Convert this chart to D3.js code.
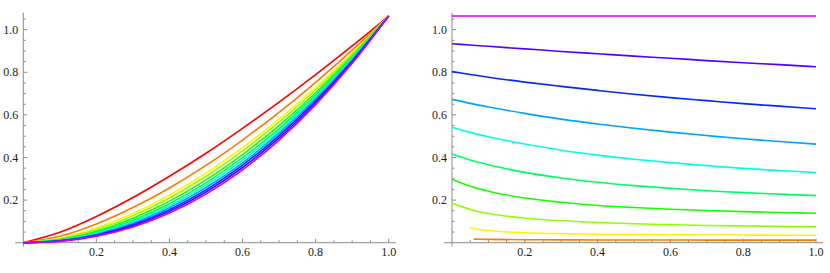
<!DOCTYPE html>
<html>
<head>
<meta charset="utf-8">
<script src="https://d3js.org/d3.v7.min.js"></script>
<style>
body { margin: 0; background: #fff; }
svg { display: block; }
text { font-family: 'Liberation Serif', 'Times New Roman', serif; font-size: 12px; }
</style>
</head>
<body>
<svg class="theSvg" width="830" height="273"></svg>
<script>
// x positions the curves were read at
var leftX = [0, 0.1, 0.2, 0.3, 0.4, 0.5, 0.6, 0.7, 0.8, 0.9, 1.0];
var rightX = [0, 0.05, 0.1, 0.2, 0.3, 0.4, 0.5, 0.6, 0.7, 0.8, 0.9, 1.0];
var rightYellowX = [0.049, 0.07, 0.1, 0.2, 0.3, 0.4, 0.5, 0.6, 0.7, 0.8, 0.9, 1.0];
var rightOrangeX = [0.06, 0.1, 0.2, 0.3, 0.4, 0.5, 0.6, 0.7, 0.8, 0.9, 1.0];

// left panel, red (top) to magenta (bottom)
var leftRed     = [0, 0.0486, 0.123, 0.212, 0.312, 0.420, 0.537, 0.660, 0.789, 0.924, 1.064];
var leftOrange  = [0, 0.030, 0.0878, 0.165, 0.257, 0.363, 0.482, 0.612, 0.753, 0.904, 1.064];
var leftYellow  = [0, 0.0212, 0.069, 0.137, 0.224, 0.327, 0.446, 0.580, 0.728, 0.889, 1.064];
var leftLime    = [0, 0.0181, 0.0616, 0.126, 0.210, 0.312, 0.431, 0.566, 0.717, 0.883, 1.064];
var leftGreen   = [0, 0.0150, 0.0542, 0.115, 0.195, 0.295, 0.414, 0.550, 0.704, 0.875, 1.064];
var leftSpring  = [0, 0.0128, 0.0484, 0.105, 0.183, 0.281, 0.399, 0.536, 0.693, 0.869, 1.064];
var leftCyan    = [0, 0.0111, 0.0440, 0.098, 0.173, 0.270, 0.387, 0.525, 0.684, 0.864, 1.064];
var leftAzure   = [0, 0.0097, 0.0399, 0.0912, 0.164, 0.259, 0.375, 0.514, 0.675, 0.858, 1.064];
var leftBlue    = [0, 0.0084, 0.0362, 0.0849, 0.155, 0.248, 0.364, 0.503, 0.666, 0.853, 1.064];
var leftViolet  = [0, 0.0074, 0.0329, 0.079, 0.147, 0.238, 0.353, 0.492, 0.657, 0.847, 1.064];
var leftMagenta = [0, 0.0064, 0.0299, 0.0735, 0.139, 0.228, 0.342, 0.482, 0.648, 0.842, 1.064];

// right panel
var rightMagenta = [1.064, 1.064, 1.064, 1.064, 1.064, 1.064, 1.064, 1.064, 1.064, 1.064, 1.064, 1.064];
var rightViolet  = [0.934, 0.928, 0.922, 0.910, 0.898, 0.887, 0.876, 0.866, 0.855, 0.845, 0.836, 0.826];
var rightBlue    = [0.803, 0.790, 0.777, 0.754, 0.734, 0.715, 0.697, 0.681, 0.667, 0.653, 0.641, 0.629];
var rightAzure   = [0.673, 0.654, 0.637, 0.607, 0.580, 0.557, 0.537, 0.519, 0.503, 0.488, 0.475, 0.463];
var rightCyan    = [0.542, 0.518, 0.497, 0.463, 0.434, 0.411, 0.392, 0.376, 0.362, 0.349, 0.339, 0.329];
var rightSpring  = [0.416, 0.388, 0.366, 0.330, 0.304, 0.284, 0.268, 0.255, 0.244, 0.235, 0.228, 0.221];
var rightGreen   = [0.298, 0.265, 0.242, 0.210, 0.190, 0.175, 0.165, 0.157, 0.151, 0.146, 0.142, 0.138];
var rightLime    = [0.185, 0.156, 0.137, 0.115, 0.103, 0.095, 0.089, 0.085, 0.081, 0.079, 0.077, 0.075];
var rightYellow  = [0.070, 0.063, 0.057, 0.047, 0.0425, 0.040, 0.0384, 0.037, 0.0365, 0.036, 0.0355, 0.035];
var rightOrange  = [0.017, 0.0155, 0.014, 0.0133, 0.013, 0.0128, 0.0125, 0.0123, 0.0122, 0.0121, 0.012];

var tickLabels = ["0.2", "0.4", "0.6", "0.8", "1.0"];

var hueColors = {
	red: "#ff0000", orange: "#ff7a00", yellow: "#fff500", lime: "#8fff00", green: "#14ff00",
	spring: "#00ff66", cyan: "#00ffe0", azure: "#00a3ff", blue: "#0029ff", violet: "#5200ff", magenta: "#cc00ff"
};

var leftSeries = [
	[leftX, leftRed, "red"], [leftX, leftOrange, "orange"], [leftX, leftYellow, "yellow"],
	[leftX, leftLime, "lime"], [leftX, leftGreen, "green"], [leftX, leftSpring, "spring"],
	[leftX, leftCyan, "cyan"], [leftX, leftAzure, "azure"], [leftX, leftBlue, "blue"],
	[leftX, leftViolet, "violet"], [leftX, leftMagenta, "magenta"]
];
var rightSeries = [
	[rightOrangeX, rightOrange, "orange"], [rightYellowX, rightYellow, "yellow"],
	[rightX, rightLime, "lime"], [rightX, rightGreen, "green"], [rightX, rightSpring, "spring"],
	[rightX, rightCyan, "cyan"], [rightX, rightAzure, "azure"], [rightX, rightBlue, "blue"],
	[rightX, rightViolet, "violet"], [rightX, rightMagenta, "magenta"]
];

var axisColor = "#8c8c8c";
var theSvg = d3.select(".theSvg");

var yScale = d3.scaleLinear().domain([0, 1]).range([242.7, 29.7]);

function drawPanel(x0, x1, series){
	var xScale = d3.scaleLinear().domain([0, 1]).range([x0, x1]);
	var g = theSvg.append("g");

	// axes lines
	g.append("line")
		.attr("x1", xScale(0) - 8).attr("x2", xScale(1) + 7)
		.attr("y1", yScale(0)).attr("y2", yScale(0))
		.attr("stroke", axisColor).attr("stroke-width", 1);
	g.append("line")
		.attr("x1", xScale(0)).attr("x2", xScale(0))
		.attr("y1", yScale(0) + 4).attr("y2", yScale(1.08))
		.attr("stroke", axisColor).attr("stroke-width", 1);

	// x ticks every 0.05, labelled every 0.2
	var xt = d3.range(1, 21).map(function(i){ return i * 0.05; });
	g.selectAll(".xtick").data(xt).enter()
		.append("line")
		.attr("class", "xtick")
		.attr("x1", function(d){ return xScale(d); })
		.attr("x2", function(d){ return xScale(d); })
		.attr("y1", yScale(0))
		.attr("y2", function(d, i){ return yScale(0) - ((i + 1) % 4 == 0 ? 4 : 2.5); })
		.attr("stroke", axisColor).attr("stroke-width", 1);

	var yt = d3.range(1, 22).map(function(i){ return i * 0.05; });
	g.selectAll(".ytick").data(yt).enter()
		.append("line")
		.attr("class", "ytick")
		.attr("x1", xScale(0))
		.attr("x2", function(d, i){ return xScale(0) + ((i + 1) % 4 == 0 ? 4 : 2.5); })
		.attr("y1", function(d){ return yScale(d); })
		.attr("y2", function(d){ return yScale(d); })
		.attr("stroke", axisColor).attr("stroke-width", 1);

	g.selectAll(".xlab").data(tickLabels).enter()
		.append("text")
		.attr("class", "xlab")
		.attr("x", function(d){ return xScale(+d); })
		.attr("y", yScale(0) + 13)
		.attr("text-anchor", "middle")
		.attr("fill", "#222")
		.text(function(d){ return d; });

	g.selectAll(".ylab").data(tickLabels).enter()
		.append("text")
		.attr("class", "ylab")
		.attr("x", xScale(0) - 5)
		.attr("y", function(d){ return yScale(+d) + 4; })
		.attr("text-anchor", "end")
		.attr("fill", "#222")
		.text(function(d){ return d; });

	var line = d3.line()
		.x(function(d){ return xScale(d[0]); })
		.y(function(d){ return yScale(d[1]); })
		.curve(d3.curveMonotoneX);

	g.selectAll(".curve").data(series).enter()
		.append("path")
		.attr("class", "curve")
		.attr("d", function(s){ return line(s[0].map(function(x, i){ return [x, s[1][i]]; })); })
		.attr("fill", "none")
		.attr("stroke", function(s){ return hueColors[s[2]]; })
		.attr("stroke-width", 1.6);
}

drawPanel(23.3, 388.7, leftSeries);
drawPanel(452, 816, rightSeries);
</script>
</body>
</html>
